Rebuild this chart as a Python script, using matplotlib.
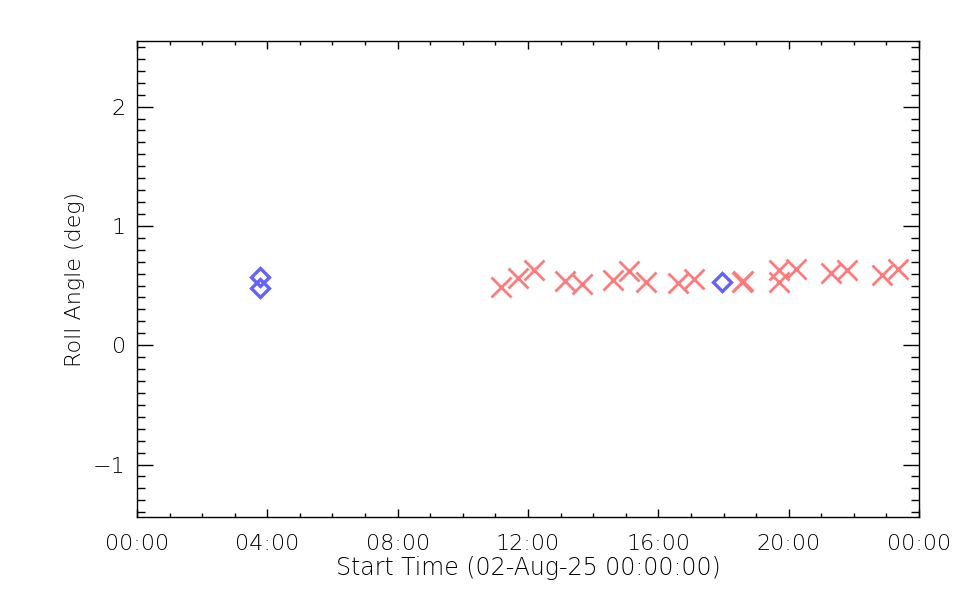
import numpy as np
import matplotlib
matplotlib.use("Agg")
import matplotlib.pyplot as plt
from matplotlib.ticker import MultipleLocator, FuncFormatter

# roll angle vs start time (hours since 02-Aug-25 00:00:00)
diamond_hours = [3.77, 3.77, 17.95]
diamond_roll = [0.572, 0.480, 0.526]

cross_hours = [11.17, 11.68, 12.18, 13.14, 13.65, 14.60, 15.10, 15.62,
               16.59, 17.09, 18.57, 18.59, 19.70, 19.70, 20.22, 21.30,
               21.78, 22.86, 23.35]
cross_roll = [0.489, 0.564, 0.629, 0.539, 0.509, 0.545, 0.620, 0.531,
              0.522, 0.559, 0.532, 0.541, 0.629, 0.531, 0.635, 0.609,
              0.629, 0.587, 0.643]

x_label = "Start Time (02-Aug-25 00:00:00)"
y_label = "Roll Angle (deg)"

plt.rcParams["font.family"] = "DejaVu Sans"
plt.rcParams["font.weight"] = "light"
plt.rcParams["axes.labelweight"] = "light"

fig = plt.figure(figsize=(9.6, 6.0), dpi=100)
ax = fig.add_axes([0.1427, 0.1383, 0.8146, 0.7934])

ax.plot(cross_hours, cross_roll, linestyle="none", marker="x",
        markersize=14, markeredgewidth=2.0, color="#ff7a7a")
ax.plot(diamond_hours, diamond_roll, linestyle="none", marker="D",
        markersize=9.5, markeredgewidth=2.4, markerfacecolor="none",
        markeredgecolor="#6262ff")

ax.set_xlim(0, 24)
ax.set_ylim(-1.44, 2.55)

ax.xaxis.set_major_locator(MultipleLocator(4))
ax.xaxis.set_minor_locator(MultipleLocator(1))
ax.yaxis.set_major_locator(MultipleLocator(1))
ax.yaxis.set_minor_locator(MultipleLocator(0.1))


def hhmm(v, pos):
    h = int(round(v)) % 24
    return f"{h:02d}:00"


ax.xaxis.set_major_formatter(FuncFormatter(hhmm))
ax.yaxis.set_major_formatter(FuncFormatter(lambda v, p: f"{int(round(v))}".replace("-", "\u2212")))

ax.tick_params(axis="both", which="both", direction="in", top=True, right=True,
               labelsize=16, width=1, color="black", labelcolor="black")
ax.tick_params(axis="x", which="major", length=6, pad=12)
ax.tick_params(axis="x", which="minor", length=3)
ax.tick_params(axis="y", which="major", length=11.5, pad=8)
ax.tick_params(axis="y", which="minor", length=5.8)
for s in ax.spines.values():
    s.set_linewidth(1)

ax.set_xlabel(x_label, fontsize=17, labelpad=2)
ax.set_ylabel(y_label, fontsize=16, labelpad=6)

fig.savefig("out.png", dpi=100)
